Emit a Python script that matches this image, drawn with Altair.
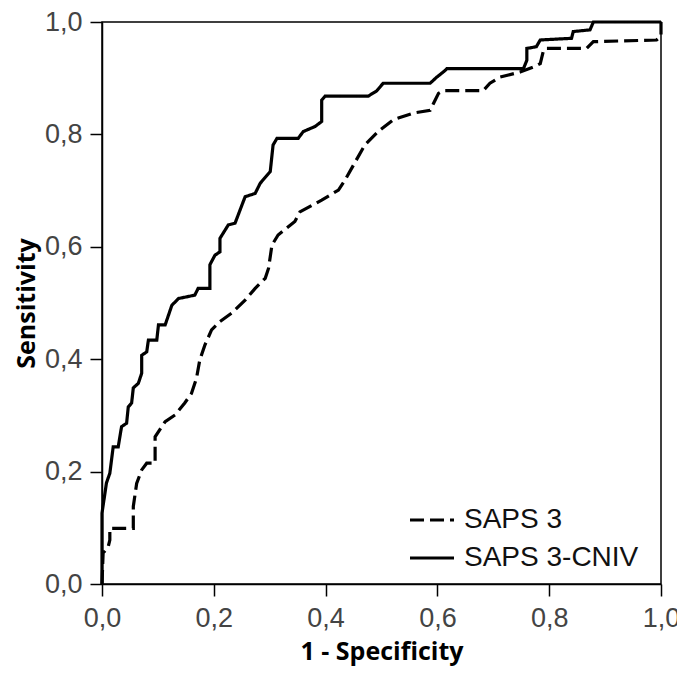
import altair as alt
import pandas as pd

series_names = ["SAPS 3", "SAPS 3-CNIV"]
tick_values = [0.0, 0.2, 0.4, 0.6, 0.8, 1.0]

# SAPS 3-CNIV (solid)
cniv_x = [0.0, 0.0, 0.008, 0.014, 0.020, 0.029, 0.035, 0.044, 0.047, 0.053,
          0.056, 0.065, 0.071, 0.071, 0.080, 0.083, 0.098, 0.101, 0.113, 0.125,
          0.137, 0.166, 0.172, 0.193, 0.193, 0.202, 0.211, 0.211, 0.226, 0.238,
          0.256, 0.274, 0.283, 0.301, 0.306, 0.313, 0.351, 0.360, 0.381, 0.393,
          0.393, 0.399, 0.476, 0.491, 0.503, 0.587, 0.599, 0.614, 0.617, 0.754,
          0.760, 0.760, 0.777, 0.784, 0.840, 0.843, 0.873, 0.879, 1.0]
cniv_y = [0.0, 0.126, 0.180, 0.197, 0.244, 0.244, 0.280, 0.286, 0.315, 0.322,
          0.349, 0.357, 0.375, 0.407, 0.413, 0.434, 0.434, 0.461, 0.461, 0.496,
          0.508, 0.514, 0.526, 0.526, 0.568, 0.585, 0.591, 0.615, 0.639, 0.642,
          0.689, 0.695, 0.713, 0.734, 0.781, 0.793, 0.793, 0.805, 0.814, 0.823,
          0.861, 0.868, 0.868, 0.877, 0.891, 0.891, 0.902, 0.914, 0.917, 0.917,
          0.932, 0.953, 0.956, 0.968, 0.971, 0.983, 0.986, 1.0, 1.0]

# SAPS 3 (dashed)
saps_x = [0.0, 0.002, 0.011, 0.014, 0.014, 0.056, 0.056, 0.062, 0.071, 0.080,
          0.095, 0.095, 0.113, 0.131, 0.148, 0.160, 0.169, 0.175, 0.184, 0.196,
          0.211, 0.232, 0.256, 0.274, 0.292, 0.298, 0.304, 0.315, 0.345, 0.354,
          0.393, 0.423, 0.435, 0.453, 0.470, 0.494, 0.521, 0.557, 0.587, 0.593,
          0.602, 0.611, 0.682, 0.694, 0.712, 0.748, 0.772, 0.784, 0.790, 0.795,
          0.867, 0.879, 0.992, 1.0, 1.0]
saps_y = [0.0, 0.055, 0.066, 0.078, 0.099, 0.099, 0.138, 0.179, 0.203, 0.215,
          0.215, 0.262, 0.289, 0.301, 0.322, 0.339, 0.366, 0.399, 0.425, 0.452,
          0.467, 0.482, 0.505, 0.526, 0.544, 0.562, 0.603, 0.621, 0.645, 0.662,
          0.683, 0.701, 0.719, 0.751, 0.781, 0.805, 0.826, 0.838, 0.843, 0.855,
          0.873, 0.878, 0.878, 0.891, 0.902, 0.911, 0.920, 0.926, 0.950, 0.953,
          0.953, 0.965, 0.968, 0.975, 1.0]

rows = []
for i, (a, b) in enumerate(zip(saps_x, saps_y)):
    rows.append({"series": series_names[0], "idx": i, "fpr": a, "tpr": b})
for i, (a, b) in enumerate(zip(cniv_x, cniv_y)):
    rows.append({"series": series_names[1], "idx": i, "fpr": a, "tpr": b})
df = pd.DataFrame(rows)

label_expr = "replace(format(datum.value, '.1f'), '.', ',')"

chart = alt.Chart(df).mark_line(strokeWidth=3.2, color="black", strokeCap="butt").encode(
    x=alt.X("fpr:Q",
            scale=alt.Scale(domain=[0, 1], nice=False),
            axis=alt.Axis(values=tick_values, title="1 - Specificity", labelExpr=label_expr,
                          labelFlush=False, labelOverlap=False, tickSize=12,
                          labelPadding=9, titlePadding=8, titleFontSize=25)),
    y=alt.Y("tpr:Q",
            scale=alt.Scale(domain=[0, 1], nice=False),
            axis=alt.Axis(values=tick_values, title="Sensitivity", labelExpr=label_expr,
                          labelFlush=False, labelOverlap=False, tickSize=12,
                          labelPadding=8, titlePadding=5, titleFontSize=25)),
    strokeDash=alt.StrokeDash("series:N",
                              scale=alt.Scale(domain=series_names, range=[[14, 6], [1, 0]]),
                              legend=alt.Legend(title=None, orient="none", legendX=306, legendY=474,
                                                symbolType="stroke", symbolSize=1936,
                                                symbolStrokeWidth=3.2, symbolStrokeColor="black",
                                                labelFont="Liberation Sans", labelFontSize=28,
                                                labelColor="#111", labelOffset=8, padding=0,
                                                labelLimit=400, rowPadding=-4)),
    order="idx:Q",
).properties(
    width=559, height=562,
    background="white",
    autosize=alt.AutoSizeParams(type="none"),
    padding={"left": 94, "top": 14, "right": 16, "bottom": 83},
).configure_view(
    stroke="black", strokeWidth=1.5
).configure_axis(
    grid=False, domainColor="black", domainWidth=1.5, tickColor="black", tickWidth=1.5,
    labelFont="Liberation Sans", labelFontSize=27, labelColor="#444",
    titleFont="Open Sans", titleFontWeight="bold", titleColor="black"
)

chart.save("out.html", embed_options={"renderer": "svg", "actions": False})
